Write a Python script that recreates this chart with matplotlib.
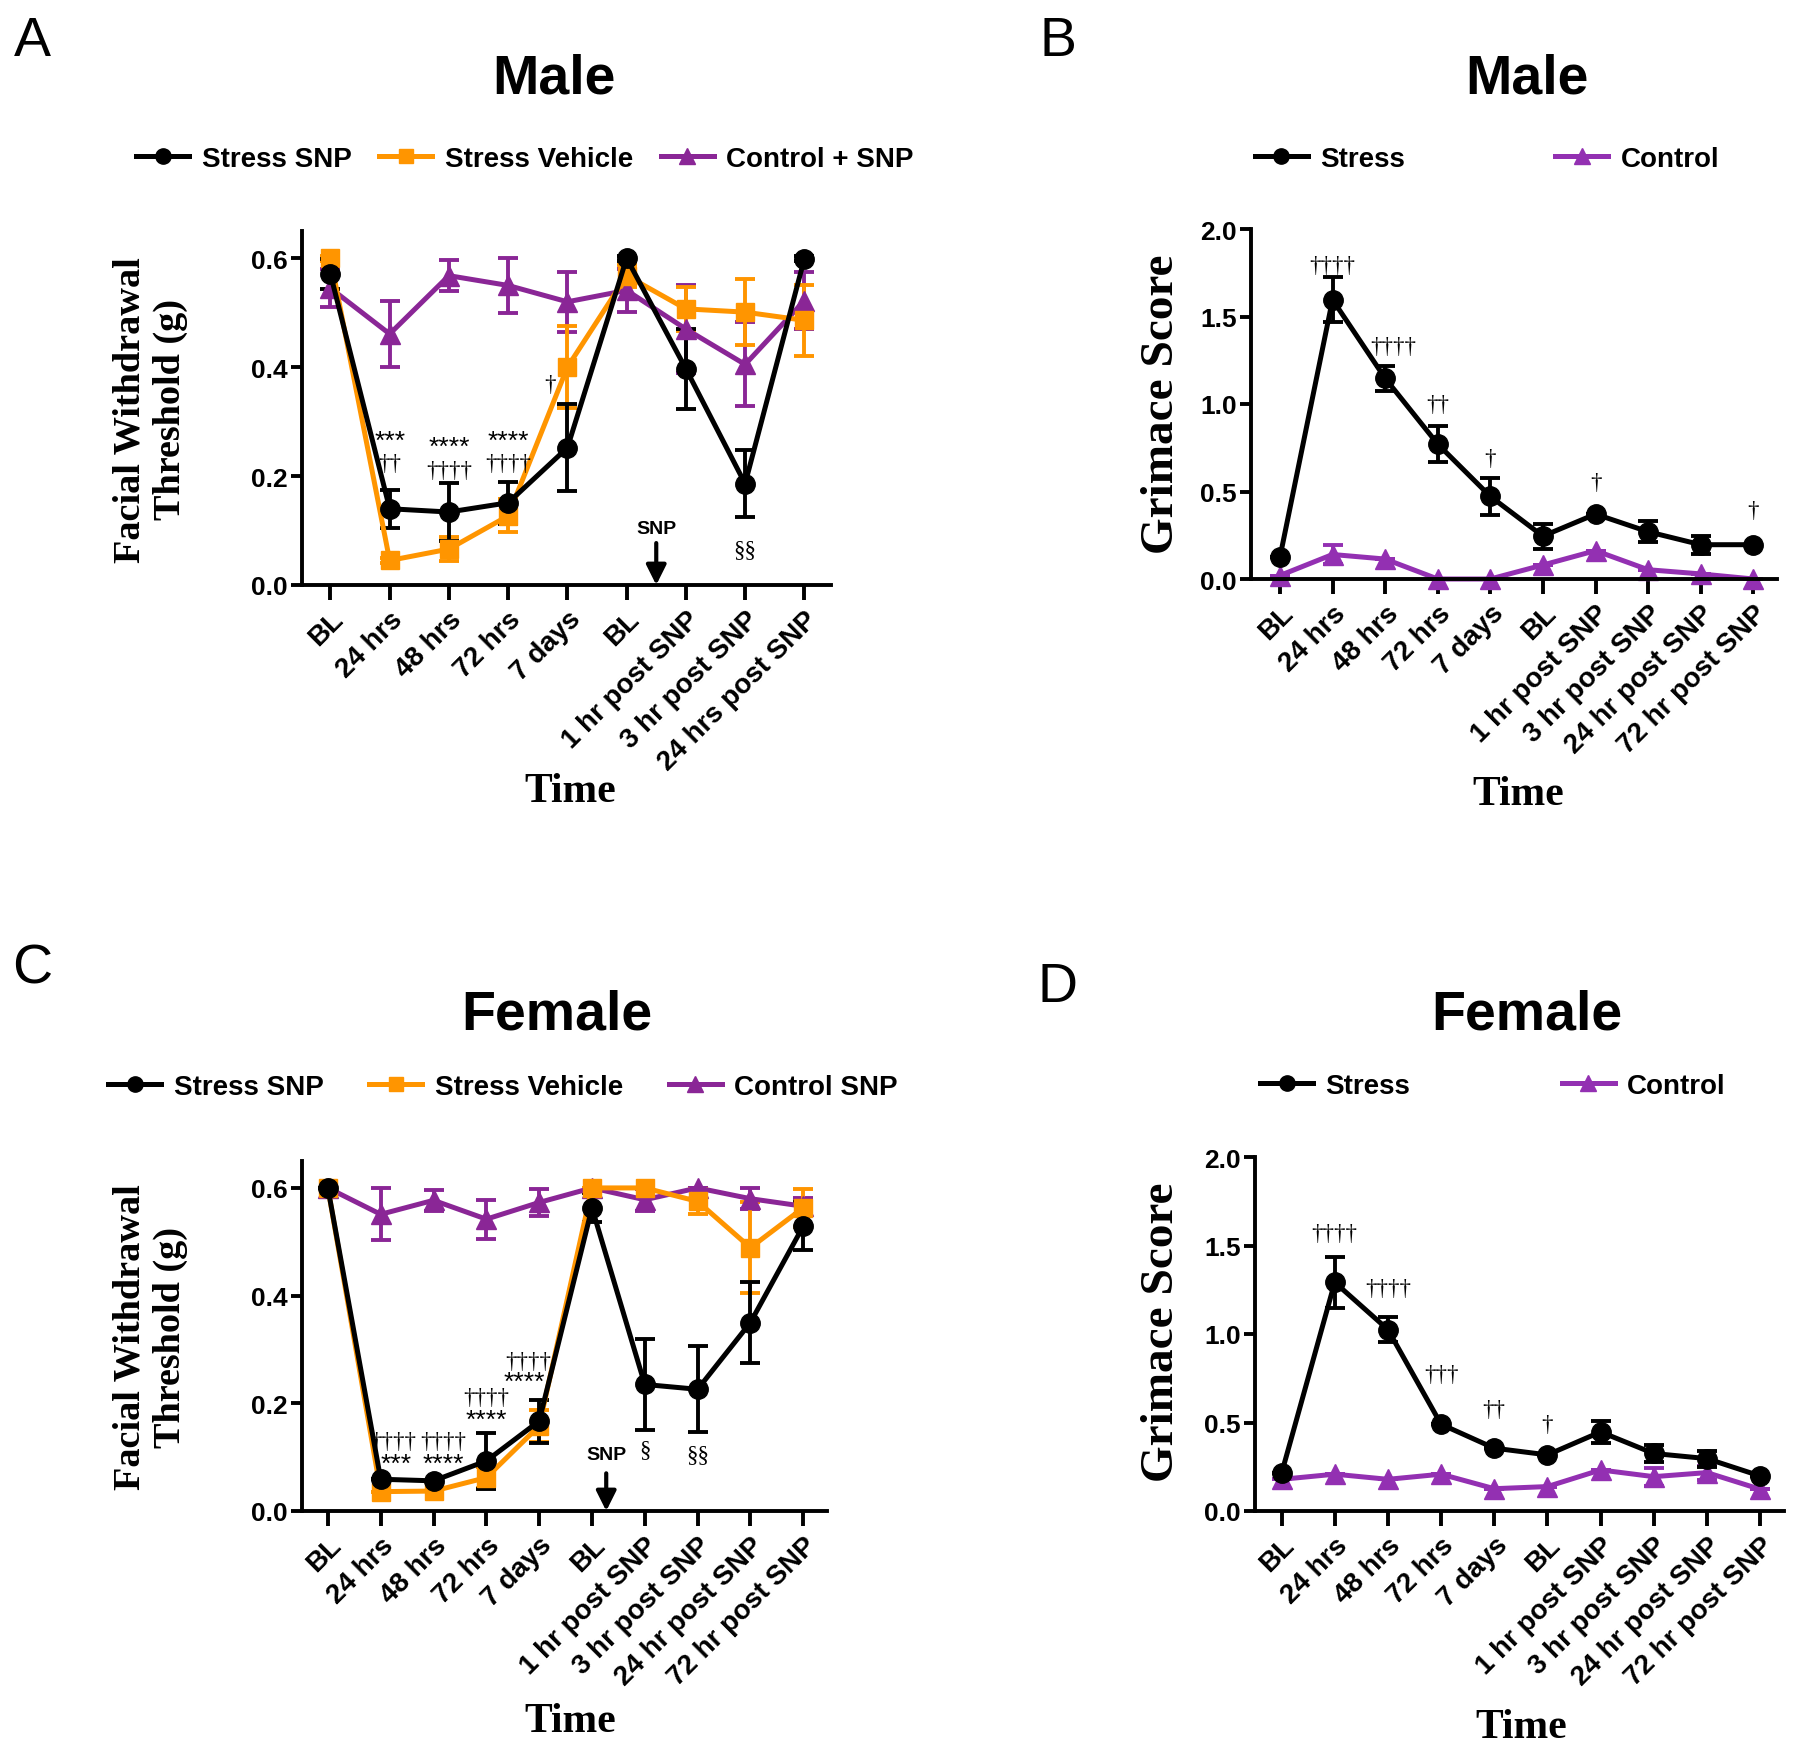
import matplotlib.pyplot as plt
import numpy as np
from matplotlib.lines import Line2D

plt.rcParams['font.family'] = ['Liberation Sans', 'DejaVu Sans']

BLACK = '#000000'
ORANGE = '#FF9500'
PURPLE = '#8A2696'
PURPLE_G = '#9330B2'

# ---- data -------------------------------------------------------------
labels_a = ['BL', '24 hrs', '48 hrs', '72 hrs', '7 days', 'BL',
            '1 hr post SNP', '3 hr post SNP', '24 hrs post SNP']
labels_b = ['BL', '24 hrs', '48 hrs', '72 hrs', '7 days', 'BL',
            '1 hr post SNP', '3 hr post SNP', '24 hr post SNP', '72 hr post SNP']
labels_c = labels_b
labels_d = labels_b

# A: male facial withdrawal threshold
a_snp = [0.571, 0.140, 0.134, 0.151, 0.252, 0.600, 0.397, 0.186, 0.599]
a_snp_err = [0.028, 0.035, 0.053, 0.039, 0.080, 0.005, 0.073, 0.062, 0.005]
a_veh = [0.600, 0.045, 0.066, 0.127, 0.400, 0.568, 0.507, 0.501, 0.486]
a_veh_err = [0.005, 0.005, 0.022, 0.030, 0.075, 0.020, 0.040, 0.060, 0.065]
a_ctl = [0.545, 0.461, 0.568, 0.550, 0.520, 0.541, 0.470, 0.405, 0.522]
a_ctl_err = [0.035, 0.060, 0.028, 0.050, 0.055, 0.040, 0.080, 0.077, 0.052]

# B: male grimace score
b_stress = [0.124, 1.596, 1.147, 0.771, 0.472, 0.245, 0.371, 0.270, 0.196, 0.196]
b_stress_err = [0.0, 0.128, 0.072, 0.103, 0.106, 0.072, 0.0, 0.060, 0.052, 0.0]
b_ctl = [0.020, 0.140, 0.114, 0.0, 0.0, 0.080, 0.162, 0.053, 0.029, 0.0]
b_ctl_err = [0.0, 0.055, 0.0, 0.0, 0.0, 0.0, 0.0, 0.0, 0.0, 0.0]

# C: female facial withdrawal threshold
c_snp = [0.600, 0.059, 0.056, 0.093, 0.167, 0.563, 0.235, 0.226, 0.350, 0.529]
c_snp_err = [0.0, 0.0, 0.0, 0.052, 0.040, 0.027, 0.085, 0.080, 0.075, 0.045]
c_veh = [0.600, 0.036, 0.037, 0.062, 0.158, 0.600, 0.600, 0.575, 0.489, 0.563]
c_veh_err = [0.0, 0.0, 0.0, 0.020, 0.030, 0.0, 0.0, 0.023, 0.085, 0.035]
c_ctl = [0.600, 0.551, 0.577, 0.542, 0.573, 0.600, 0.578, 0.600, 0.580, 0.566]
c_ctl_err = [0.0, 0.048, 0.020, 0.036, 0.025, 0.0, 0.020, 0.0, 0.020, 0.015]

# D: female grimace score
d_stress = [0.213, 1.292, 1.025, 0.490, 0.355, 0.317, 0.447, 0.325, 0.296, 0.198]
d_stress_err = [0.0, 0.143, 0.070, 0.0, 0.0, 0.0, 0.060, 0.050, 0.045, 0.0]
d_ctl = [0.179, 0.208, 0.179, 0.208, 0.126, 0.138, 0.232, 0.194, 0.217, 0.123]
d_ctl_err = [0.0, 0.0, 0.0, 0.0, 0.0, 0.0, 0.0, 0.05, 0.04, 0.0]

# significance marks: (x, y, text)
a_marks = [(1, 0.265, '***'), (1, 0.224, '††'), (2, 0.254, '****'), (2, 0.211, '††††'),
           (3, 0.265, '****'), (3, 0.224, '††††'), (3.7, 0.369, '†'), (7, 0.066, '§§')]
b_marks = [(1, 1.79, '††††'), (2.16, 1.33, '††††'), (3, 1.0, '††'), (4, 0.686, '†'),
           (6, 0.552, '†'), (9, 0.39, '†')]
c_marks = [(1.24, 0.129, '††††'), (1.3, 0.087, '***'), (2.18, 0.129, '††††'), (2.18, 0.087, '****'),
           (3, 0.210, '††††'), (3, 0.169, '****'), (3.79, 0.278, '††††'), (3.72, 0.240, '****'),
           (6, 0.114, '§'), (7, 0.105, '§§')]
d_marks = [(1, 1.566, '††††'), (2, 1.255, '††††'), (3, 0.774, '†††'), (4, 0.575, '††'),
           (5, 0.49, '†')]


def series(ax, y, err, color, marker, ms):
    x = np.arange(len(y))
    ax.errorbar(x, y, yerr=err, color=color, marker=marker, ms=ms, lw=3.6,
                elinewidth=2.8, capsize=7.5, capthick=2.8, clip_on=False)


def style_axes(ax, labels, ylim, yticks, yfmt):
    ax.set_xlim(-0.5, len(labels) - 0.55)
    ax.set_ylim(*ylim)
    ax.set_yticks(yticks)
    ax.set_yticklabels([yfmt.format(v) for v in yticks], fontsize=19, fontweight='bold')
    ax.set_xticks(np.arange(len(labels)))
    ax.set_xticklabels(labels, rotation=45, ha='right', rotation_mode='anchor',
                       fontsize=20, fontweight='bold')
    for s in ['top', 'right']:
        ax.spines[s].set_visible(False)
    for s in ['left', 'bottom']:
        ax.spines[s].set_linewidth(2.8)
    ax.tick_params(axis='x', length=11, width=2.8, pad=4)
    ax.tick_params(axis='y', length=8, width=2.8, pad=2)


def marks(ax, items):
    for x, y, t in items:
        if '*' in t:
            ax.text(x, y, t, ha='center', va='center', fontsize=19)
        else:
            ax.text(x, y, t, ha='center', va='center', fontsize=16.5,
                    family=['Liberation Serif', 'DejaVu Serif'])


def snp_arrow(ax, x, ytext, ytop):
    ax.text(x, ytext, 'SNP', ha='center', va='center', fontsize=14, fontweight='bold')
    ax.annotate('', xy=(x, 0), xytext=(x, ytop),
                arrowprops=dict(arrowstyle='-|>', lw=3, color='k', mutation_scale=30,
                                shrinkA=0, shrinkB=0))


def legend(fig, ax, items, cx, cy, colsp):
    handles = [Line2D([0], [0], color=c, marker=m, ms=ms, lw=3.6) for c, m, ms, _ in items]
    names = [n for _, _, _, n in items]
    ax.legend(handles, names, loc='center', bbox_to_anchor=(cx, cy),
              bbox_transform=fig.transFigure, ncol=len(items), frameon=False,
              prop={'size': 20, 'weight': 'bold'}, handlelength=1.9,
              handletextpad=0.45, columnspacing=colsp)


fig = plt.figure(figsize=(18, 17.58), dpi=100)
W, H = 1800, 1758


def add_axes(left, top, right, bottom):
    return fig.add_axes([left / W, 1 - bottom / H, (right - left) / W, (bottom - top) / H])


# ---- Panel A ----------------------------------------------------------
axA = add_axes(302, 232, 831, 586)
series(axA, a_ctl, a_ctl_err, PURPLE, '^', 15)
series(axA, a_veh, a_veh_err, ORANGE, 's', 12.5)
series(axA, a_snp, a_snp_err, BLACK, 'o', 14)
style_axes(axA, labels_a, (0, 0.65), [0, 0.2, 0.4, 0.6], '{:.1f}')
axA.set_xlim(-0.48, 8.45)
marks(axA, a_marks)
snp_arrow(axA, 5.5, 0.103, 0.077)
legend(fig, axA, [(BLACK, 'o', 11, 'Stress SNP'), (ORANGE, 's', 10, 'Stress Vehicle'),
                  (PURPLE, '^', 12, 'Control + SNP')], 525 / W, 1 - 160 / H, 1.0)

# ---- Panel B ----------------------------------------------------------
axB = add_axes(1251, 230, 1777, 580)
series(axB, b_ctl, b_ctl_err, PURPLE_G, '^', 15)
series(axB, b_stress, b_stress_err, BLACK, 'o', 14)
style_axes(axB, labels_b, (0, 2.0), [0, 0.5, 1.0, 1.5, 2.0], '{:.1f}')
axB.set_xlim(-0.55, 9.45)
marks(axB, b_marks)
legend(fig, axB, [(BLACK, 'o', 11, 'Stress'), (PURPLE_G, '^', 12, 'Control')],
       1487 / W, 1 - 160 / H, 5.4)

# ---- Panel C ----------------------------------------------------------
axC = add_axes(302, 1162, 827, 1512)
series(axC, c_ctl, c_ctl_err, PURPLE, '^', 15)
series(axC, c_veh, c_veh_err, ORANGE, 's', 12.5)
series(axC, c_snp, c_snp_err, BLACK, 'o', 14)
style_axes(axC, labels_c, (0, 0.65), [0, 0.2, 0.4, 0.6], '{:.1f}')
axC.set_xlim(-0.49, 9.45)
marks(axC, c_marks)
snp_arrow(axC, 5.27, 0.105, 0.070)
legend(fig, axC, [(BLACK, 'o', 11, 'Stress SNP'), (ORANGE, 's', 10, 'Stress Vehicle'),
                  (PURPLE, '^', 12, 'Control SNP')], 503 / W, 1 - 1088 / H, 1.65)

# ---- Panel D ----------------------------------------------------------
axD = add_axes(1255, 1158, 1784, 1512)
series(axD, d_ctl, d_ctl_err, PURPLE_G, '^', 15)
series(axD, d_stress, d_stress_err, BLACK, 'o', 14)
style_axes(axD, labels_d, (0, 2.0), [0, 0.5, 1.0, 1.5, 2.0], '{:.1f}')
axD.set_xlim(-0.5, 9.45)
marks(axD, d_marks)
legend(fig, axD, [(BLACK, 'o', 11, 'Stress'), (PURPLE_G, '^', 12, 'Control')],
       1493 / W, 1 - 1087 / H, 5.45)

# ---- titles, labels, panel letters -------------------------------------
serif = ['Liberation Serif', 'DejaVu Serif']
for x, y, t in [(554, 80, 'Male'), (1527, 80, 'Male'), (557, 1016, 'Female'), (1527, 1016, 'Female')]:
    fig.text(x / W, 1 - y / H, t, ha='center', va='center', fontsize=40, fontweight='bold')
for x, y, t in [(32, 42, 'A'), (1058, 42, 'B'), (32, 970, 'C'), (1058, 988, 'D')]:
    fig.text(x / W, 1 - y / H, t, ha='center', va='center', fontsize=40)
for x, y in [(570, 792), (1518, 795), (570, 1722), (1521, 1728)]:
    fig.text(x / W, 1 - y / H, 'Time', ha='center', va='center', fontsize=30,
             fontweight='bold', family=serif)
for y in [410, 1337]:
    fig.text(150 / W, 1 - y / H, 'Facial Withdrawal\nThreshold (g)', ha='center', va='center',
             rotation=90, fontsize=27.5, fontweight='bold', family=serif, linespacing=1.2)
for y in [404, 1332]:
    fig.text(1162 / W, 1 - y / H, 'Grimace Score', ha='center', va='center',
             rotation=90, fontsize=34, fontweight='bold', family=serif)

fig.savefig('out.png', dpi=100)
